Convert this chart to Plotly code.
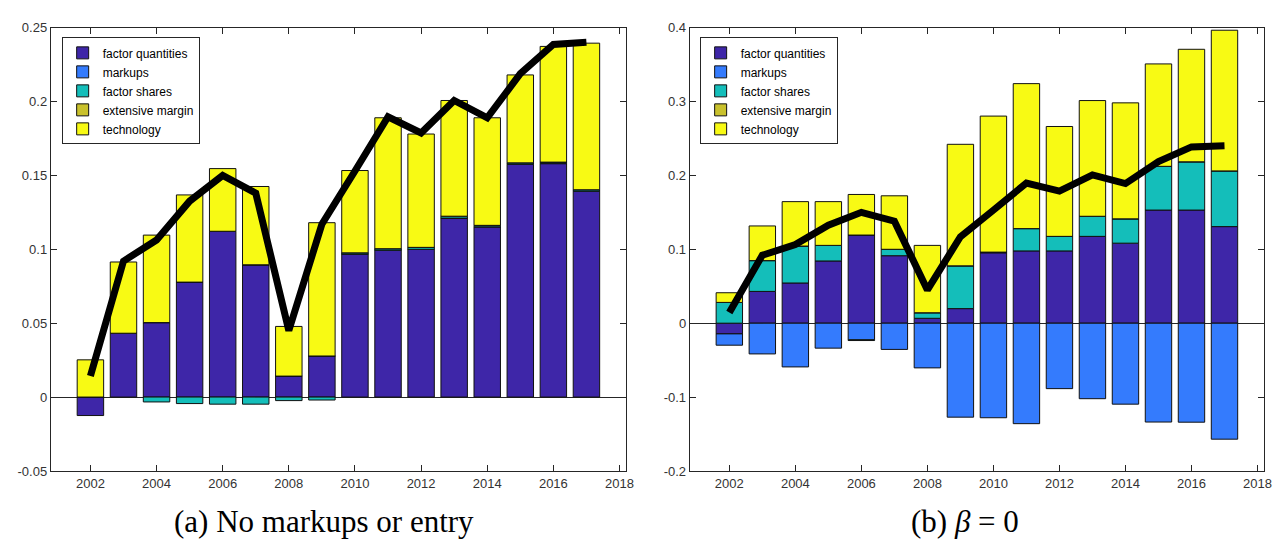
import plotly.graph_objects as go

W, H = 1281, 539

years = list(range(2002, 2018))
series_names = ["factor quantities", "markups", "factor shares", "extensive margin", "technology"]
series_colors = ["#3E26A8", "#347BFD", "#14BEBA", "#C9C12C", "#F8FA14"]

# Panel (a): No markups or entry
a_factor_quantities = [-0.0125, 0.0432, 0.0504, 0.0778, 0.1122, 0.0895, 0.0142, 0.0278,
                       0.0966, 0.0994, 0.1000, 0.1211, 0.1152, 0.1575, 0.1580, 0.1393]
a_markups = [0.0] * 16
a_factor_shares = [0.0, 0.0, -0.0033, -0.0044, -0.0048, -0.0048, -0.0024, -0.0020,
                   0.0010, 0.0010, 0.0013, 0.0013, 0.0010, 0.0010, 0.0010, 0.0010]
a_extensive = [0.0] * 16
a_technology = [0.0252, 0.0482, 0.0592, 0.0590, 0.0424, 0.0530, 0.0336, 0.0902,
                0.0557, 0.0886, 0.0767, 0.0783, 0.0728, 0.0595, 0.0783, 0.0992]

# Panel (b): beta = 0
b_factor_quantities = [-0.0145, 0.0430, 0.0544, 0.0842, 0.1193, 0.0913, 0.0066, 0.0197,
                       0.0952, 0.0978, 0.0978, 0.1175, 0.1083, 0.1531, 0.1531, 0.1307]
b_markups = [-0.0153, -0.0416, -0.0592, -0.0338, -0.0225, -0.0355, -0.0605, -0.1272,
             -0.1280, -0.1360, -0.0886, -0.1022, -0.1096, -0.1338, -0.1340, -0.1570]
b_factor_shares = [0.0281, 0.0417, 0.0500, 0.0211, -0.0010, 0.0087, 0.0075, 0.0579,
                   0.0010, 0.0302, 0.0197, 0.0272, 0.0329, 0.0592, 0.0653, 0.0754]
b_extensive = [0.0] * 16
b_technology = [0.0131, 0.0469, 0.0601, 0.0592, 0.0549, 0.0724, 0.0912, 0.1645,
                0.1841, 0.1962, 0.1487, 0.1566, 0.1570, 0.1386, 0.1523, 0.1904]

total_growth = [0.0143, 0.0920, 0.1063, 0.1326, 0.1500, 0.1380, 0.0450, 0.1170,
                0.1530, 0.1897, 0.1787, 0.2007, 0.1890, 0.2188, 0.2386, 0.2401]

a_yticks = [-0.05, 0, 0.05, 0.1, 0.15, 0.2, 0.25]
a_yticktext = ["-0.05", "0", "0.05", "0.1", "0.15", "0.2", "0.25"]
b_yticks = [-0.2, -0.1, 0, 0.1, 0.2, 0.3, 0.4]
b_yticktext = ["-0.2", "-0.1", "0", "0.1", "0.2", "0.3", "0.4"]
xticks = list(range(2002, 2019, 2))

captions = ["(a) No markups or entry", "(b) <i>β</i> = 0"]

fig = go.Figure()

panels = [
    ("x", "y", "legend", [a_factor_quantities, a_markups, a_factor_shares, a_extensive, a_technology]),
    ("x2", "y2", "legend2", [b_factor_quantities, b_markups, b_factor_shares, b_extensive, b_technology]),
]
for xa, ya, lg, data in panels:
    for name, color, vals in zip(series_names, series_colors, data):
        fig.add_trace(go.Bar(
            x=years, y=vals, name=name, xaxis=xa, yaxis=ya, legend=lg,
            width=0.8, marker=dict(color=color, line=dict(color="#111111", width=1)),
        ))
    fig.add_trace(go.Scatter(
        x=years, y=total_growth, mode="lines", xaxis=xa, yaxis=ya, showlegend=False,
        line=dict(color="black", width=7),
    ))

axcol = "#262626"
tickfont = dict(family="Liberation Sans, Arial, sans-serif", size=13, color="#333333")

def xax(domain):
    return dict(domain=domain, range=[2000.8, 2018.2], tickvals=xticks,
                ticks="inside", ticklen=6, tickcolor=axcol, showline=True, linecolor=axcol,
                linewidth=1, mirror="ticks", showgrid=False, zeroline=False, tickfont=tickfont)

def yax(domain, rng, tv, tt, anchor):
    return dict(domain=domain, range=rng, tickvals=tv, ticktext=tt, anchor=anchor,
                ticks="inside", ticklen=6, tickcolor=axcol, showline=True, linecolor=axcol,
                linewidth=1, mirror="ticks", showgrid=False, zeroline=True,
                zerolinecolor=axcol, zerolinewidth=1, tickfont=tickfont)

ydom = [1 - 469 / H, 1 - 13 / H]
legfont = dict(family="Liberation Sans, Arial, sans-serif", size=12, color="black")

fig.update_layout(
    width=W, height=H,
    margin=dict(l=0, r=0, t=0, b=0),
    paper_bgcolor="white", plot_bgcolor="white",
    barmode="relative", bargap=0.2,
    xaxis=dict(**xax([43 / W, 622 / W]), anchor="y"),
    yaxis=yax(ydom, [-0.05, 0.25], a_yticks, a_yticktext, "x"),
    xaxis2=dict(**xax([686 / W, 1264 / W]), anchor="y2"),
    yaxis2=yax(ydom, [-0.2, 0.4], b_yticks, b_yticktext, "x2"),
    legend=dict(x=54 / W, y=1 - 23 / H, xanchor="left", yanchor="top", bgcolor="white",
                bordercolor=axcol, borderwidth=1, font=legfont, traceorder="normal",
                tracegroupgap=0),
    legend2=dict(x=696 / W, y=1 - 23 / H, xanchor="left", yanchor="top", bgcolor="white",
                 bordercolor=axcol, borderwidth=1, font=legfont, traceorder="normal",
                 tracegroupgap=0),
    annotations=[
        dict(text=captions[0], x=318 / W, y=1 - 521 / H, xref="paper", yref="paper",
             xanchor="center", yanchor="middle", showarrow=False,
             font=dict(family="Liberation Serif, Times New Roman, serif", size=31, color="black")),
        dict(text=captions[1], x=963 / W, y=1 - 521 / H, xref="paper", yref="paper",
             xanchor="center", yanchor="middle", showarrow=False,
             font=dict(family="Liberation Serif, Times New Roman, serif", size=31, color="black")),
    ],
)

fig.write_html("out.html")
